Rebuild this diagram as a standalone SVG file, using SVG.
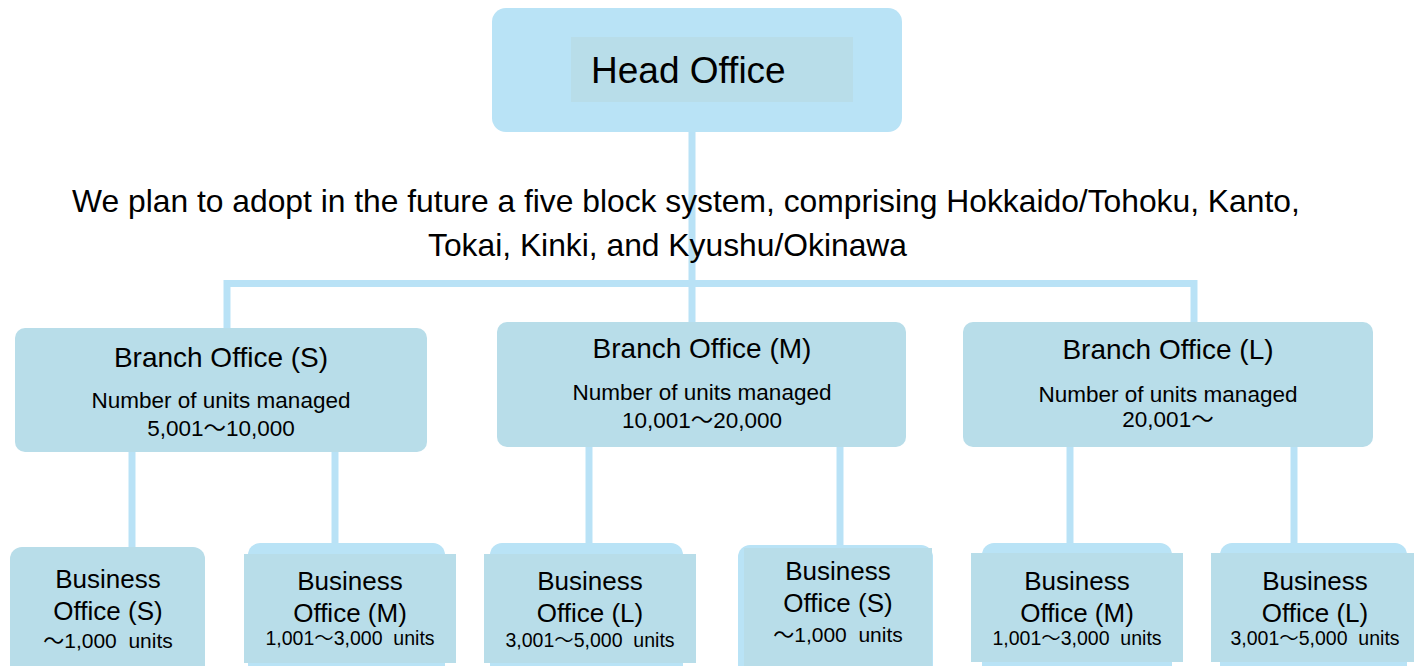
<svg xmlns="http://www.w3.org/2000/svg" width="1414" height="666" viewBox="0 0 1414 666">
  <style>
    .t { font-family: "Liberation Sans", Arial, "Noto Sans CJK JP", sans-serif; fill: #000; }
    .mid { text-anchor: middle; }
    .outer { fill: #b9e3f6; }
    .panel { fill: #b8dde9; }
    .link { stroke: #b9e2f6; stroke-width: 7; fill: none; }
  </style>
  <rect width="1414" height="666" fill="#ffffff"/>

  <!-- connectors -->
  <g id="connectors" class="link">
    <line x1="692" y1="130" x2="692" y2="324"/>
    <line x1="227" y1="283.5" x2="1194" y2="283.5"/>
    <line x1="227" y1="280" x2="227" y2="330"/>
    <line x1="1194" y1="280" x2="1194" y2="324"/>
    <line x1="132" y1="450" x2="132" y2="549"/>
    <line x1="335" y1="450" x2="335" y2="545"/>
    <line x1="589" y1="445" x2="589" y2="545"/>
    <line x1="840" y1="445" x2="840" y2="547"/>
    <line x1="1070" y1="445" x2="1070" y2="545"/>
    <line x1="1294" y1="445" x2="1294" y2="545"/>
  </g>

  <!-- head office -->
  <g id="head-office">
    <rect class="outer" x="492" y="8" width="410" height="124" rx="14"/>
    <rect class="panel" x="571" y="37" width="282" height="65"/>
    <text class="t" x="591" y="83" font-size="37">Head Office</text>
  </g>

  <!-- plan note -->
  <g id="note">
    <text class="t" x="72" y="212" font-size="31.8">We plan to adopt in the future a five block system, comprising Hokkaido/Tohoku, Kanto,</text>
    <text class="t" x="428" y="256" font-size="31.8">Tokai, Kinki, and Kyushu/Okinawa</text>
  </g>

  <!-- branch offices -->
  <g id="branch-s">
    <rect class="panel" x="15" y="328" width="412" height="124" rx="10"/>
    <text class="t mid" x="221" y="367" font-size="28">Branch Office (S)</text>
    <text class="t mid" x="221" y="408" font-size="22.5">Number of units managed</text>
    <text class="t mid" x="221" y="436" font-size="22.5">5,001～10,000</text>
  </g>
  <g id="branch-m">
    <rect class="panel" x="497" y="322" width="409" height="125" rx="10"/>
    <text class="t mid" x="702" y="358" font-size="28">Branch Office (M)</text>
    <text class="t mid" x="702" y="400" font-size="22.5">Number of units managed</text>
    <text class="t mid" x="702" y="428" font-size="22.5">10,001～20,000</text>
  </g>
  <g id="branch-l">
    <rect class="panel" x="963" y="322" width="410" height="125" rx="10"/>
    <text class="t mid" x="1168" y="359" font-size="28">Branch Office (L)</text>
    <text class="t mid" x="1168" y="402" font-size="22.5">Number of units managed</text>
    <text class="t mid" x="1168" y="427" font-size="22.5">20,001～</text>
  </g>

  <!-- business offices -->
  <g id="business-s-1">
    <rect class="panel" x="10" y="547" width="195" height="135" rx="12"/>
    <text class="t mid" x="108" y="588" font-size="26">Business</text>
    <text class="t mid" x="108" y="620" font-size="26">Office (S)</text>
    <text class="t mid" x="108" y="648" font-size="21" xml:space="preserve">～1,000  units</text>
  </g>
  <g id="business-m-1">
    <rect class="outer" x="248" y="543" width="197" height="135" rx="12"/>
    <rect class="panel" x="244" y="554" width="212" height="109"/>
    <text class="t mid" x="350" y="590" font-size="26">Business</text>
    <text class="t mid" x="350" y="622" font-size="26">Office (M)</text>
    <text class="t mid" x="350" y="645" font-size="19.5" xml:space="preserve">1,001～3,000  units</text>
  </g>
  <g id="business-l-1">
    <rect class="outer" x="490" y="543" width="193" height="135" rx="12"/>
    <rect class="panel" x="484" y="554" width="212" height="109"/>
    <text class="t mid" x="590" y="590" font-size="26">Business</text>
    <text class="t mid" x="590" y="622" font-size="26">Office (L)</text>
    <text class="t mid" x="590" y="647" font-size="19.5" xml:space="preserve">3,001～5,000  units</text>
  </g>
  <g id="business-s-2">
    <rect class="outer" x="738" y="545" width="195" height="135" rx="12"/>
    <rect class="panel" x="744" y="548" width="188" height="118"/>
    <text class="t mid" x="838" y="580" font-size="26">Business</text>
    <text class="t mid" x="838" y="612" font-size="26">Office (S)</text>
    <text class="t mid" x="838" y="642" font-size="21" xml:space="preserve">～1,000  units</text>
  </g>
  <g id="business-m-2">
    <rect class="outer" x="982" y="543" width="190" height="135" rx="12"/>
    <rect class="panel" x="971" y="553" width="212" height="109"/>
    <text class="t mid" x="1077" y="590" font-size="26">Business</text>
    <text class="t mid" x="1077" y="622" font-size="26">Office (M)</text>
    <text class="t mid" x="1077" y="645" font-size="19.5" xml:space="preserve">1,001～3,000  units</text>
  </g>
  <g id="business-l-2">
    <rect class="outer" x="1220" y="543" width="187" height="135" rx="12"/>
    <rect class="panel" x="1211" y="553" width="203" height="109"/>
    <text class="t mid" x="1315" y="590" font-size="26">Business</text>
    <text class="t mid" x="1315" y="622" font-size="26">Office (L)</text>
    <text class="t mid" x="1315" y="645" font-size="19.5" xml:space="preserve">3,001～5,000  units</text>
  </g>
</svg>
